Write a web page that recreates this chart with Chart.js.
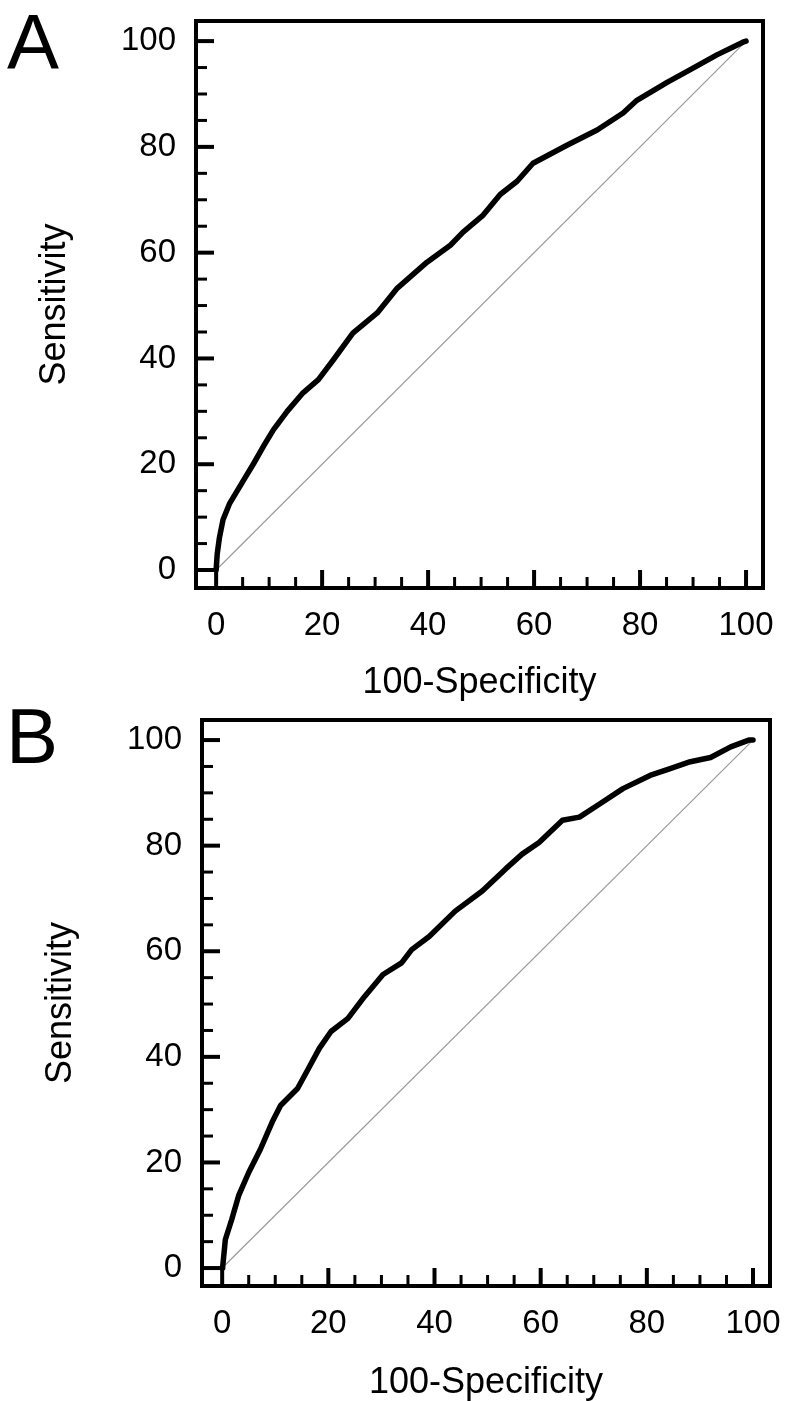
<!DOCTYPE html>
<html>
<head>
<meta charset="utf-8">
<script src="https://cdn.jsdelivr.net/npm/chart.js@4.4.1/dist/chart.umd.min.js"></script>
<style>
  body { margin: 0; background: #fff; width: 787px; height: 1401px; position: relative; overflow: hidden;
         font-family: "Liberation Sans", Arial, sans-serif; }
  .panel { position: absolute; left: 0; width: 787px; }
  .letter { position: absolute; font-size: 78px; line-height: 1; color: #000; }
</style>
</head>
<body>
<div class="panel" style="top:0;height:701px"><canvas id="rocA"></canvas></div>
<div class="panel" style="top:701px;height:700px"><canvas id="rocB"></canvas></div>
<div class="letter" style="left:7px;top:3px">A</div>
<div class="letter" style="left:6px;top:697px">B</div>
<script>
// panel A: 100-specificity vs sensitivity
const fprA = [0, 0.2, 0.6, 1.3, 2.5, 4, 5.5, 7, 9, 10.8, 13.4, 16.4, 19.3, 22.1, 25.8, 30.4, 34.2,
  39.8, 44.2, 46.6, 50.4, 53.6, 56.8, 59.8, 66.2, 71.9, 76.8, 79.4, 85.1, 90, 94.5, 99.4, 100];
const sensA = [0, 3, 6, 9.5, 12.5, 15, 17.5, 20, 23.5, 26.5, 30, 33.5, 36, 39.7, 44.8, 48.6, 53.3,
  58.2, 61.4, 63.9, 67.1, 71, 73.5, 76.9, 80.3, 83.2, 86.4, 88.8, 92.2, 94.9, 97.4, 99.8, 100];

// panel B
const fprB = [0, 0.1, 0.6, 1.8, 3.1, 5, 7.2, 9.4, 11, 14.2, 16.1, 18.3, 20.5, 23.7, 26.8, 30.3, 33.8,
  35.7, 39, 43.9, 49, 53.4, 56.5, 59.7, 64.1, 67.3, 71.1, 75.5, 80.6, 84.4, 88.2, 92, 95.8, 99.2, 100];
const sensB = [0, 0.3, 5.4, 9.2, 13.7, 18.1, 22.5, 27.6, 30.8, 34, 37.5, 41.6, 44.8, 47.3, 51.4, 55.6, 57.8,
  60.3, 62.8, 67.6, 71.4, 75.6, 78.4, 80.6, 84.8, 85.4, 87.9, 90.8, 93.3, 94.6, 95.9, 96.7, 98.7, 100, 100];

// reference line
const diagX = [0, 100];
const diagY = [0, 100];

const tickValues = [0, 20, 40, 60, 80, 100];
const minorStep = 5;

const FONT = '"Liberation Sans", Arial, sans-serif';

const framePlugin = {
  id: 'frame',
  afterDatasetsDraw(chart) {
    const { ctx, chartArea: a, scales: { x, y } } = chart;
    ctx.save();
    ctx.strokeStyle = '#000';
    ctx.lineCap = 'butt';
    for (let v = 0; v <= 100; v += minorStep) {
      const major = v % 20 === 0;
      ctx.lineWidth = major ? 4 : 3;
      const len = major ? 18 : 11;
      const px = x.getPixelForValue(v);
      ctx.beginPath();
      ctx.moveTo(px, a.bottom);
      ctx.lineTo(px, a.bottom - len);
      ctx.stroke();
      const py = y.getPixelForValue(v);
      ctx.beginPath();
      ctx.moveTo(a.left, py);
      ctx.lineTo(a.left + len, py);
      ctx.stroke();
    }
    ctx.lineWidth = 4;
    ctx.strokeRect(a.left, a.top, a.right - a.left, a.bottom - a.top);
    ctx.restore();
  }
};

function makeRoc(id, fpr, sens, box) {
  const canvas = document.getElementById(id);
  const W = 787, H = box.height;
  const padL = box.titleLeft;
  return new Chart(canvas, {
    type: 'line',
    data: {
      datasets: [
        {
          data: fpr.map((v, i) => ({ x: v, y: sens[i] })),
          borderColor: '#000',
          borderWidth: 5.5,
          borderJoinStyle: 'round',
          borderCapStyle: 'round',
          pointRadius: 0,
          tension: 0,
        },
        {
          data: diagX.map((v, i) => ({ x: v, y: diagY[i] })),
          borderColor: '#9a9a9a',
          borderWidth: 1.2,
          pointRadius: 0,
        },
      ],
    },
    options: {
      responsive: true,
      maintainAspectRatio: false,
      animation: false,
      events: [],
      layout: { padding: { left: padL, top: box.top, right: W - box.right, bottom: 0 } },
      plugins: { legend: { display: false }, tooltip: { enabled: false } },
      scales: {
        x: {
          type: 'linear',
          min: -3.8,
          max: 103.2,
          grid: { display: false, drawTicks: false },
          border: { display: false },
          afterBuildTicks: (s) => { s.ticks = tickValues.map((v) => ({ value: v })); },
          afterFit: (s) => {
            s.height = H - box.bottom;
            s.paddingLeft = 0; s.paddingRight = 0;
          },
          ticks: { color: '#000', padding: 18, maxRotation: 0, autoSkip: false, font: { family: FONT, size: 33 } },
          title: { display: true, text: '100-Specificity', color: '#000', padding: 0,
                   font: { family: FONT, size: 36, lineHeight: 1 } },
        },
        y: {
          type: 'linear',
          min: -3.4,
          max: 103.8,
          grid: { display: false, drawTicks: false },
          border: { display: false },
          afterBuildTicks: (s) => { s.ticks = tickValues.map((v) => ({ value: v })); },
          afterFit: (s) => {
            s.width = box.left - padL;
            s.paddingTop = 0; s.paddingBottom = 0;
          },
          ticks: { color: '#000', padding: 20, autoSkip: false, font: { family: FONT, size: 33 } },
          title: { display: true, text: 'Sensitivity', color: '#000', padding: 0,
                   font: { family: FONT, size: 36, lineHeight: 1 } },
        },
      },
    },
    plugins: [framePlugin],
  });
}

makeRoc('rocA', fprA, sensA, { left: 196, top: 21, right: 763, bottom: 588, height: 701, titleLeft: 37 });
makeRoc('rocB', fprB, sensB, { left: 202, top: 19, right: 770, bottom: 585, height: 700, titleLeft: 43 });
</script>
</body>
</html>
